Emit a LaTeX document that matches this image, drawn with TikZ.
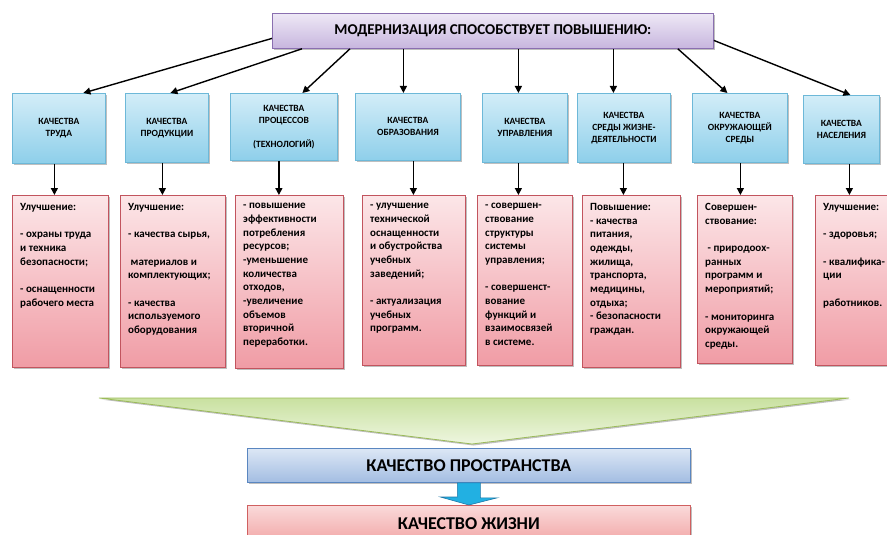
\documentclass[tikz,border=0pt]{standalone}
\usepackage{fontspec}
\setmainfont{Carlito}
\usetikzlibrary{arrows.meta,shadows,calc}
\definecolor{bluetop}{HTML}{D3EDF8}
\definecolor{bluebot}{HTML}{8ECFEA}
\definecolor{blueedge}{HTML}{6DB8D8}
\definecolor{pinktop}{HTML}{FCE6E8}
\definecolor{pinkbot}{HTML}{F09CA5}
\definecolor{pinkedge}{HTML}{C2545E}
\definecolor{purtop}{HTML}{EEE8F6}
\definecolor{purbot}{HTML}{C7B6DE}
\definecolor{puredge}{HTML}{8A6FB0}
\definecolor{grtop}{HTML}{C9E1A0}
\definecolor{grbot}{HTML}{EEF6E0}
\definecolor{gredge}{HTML}{9BBB59}
\definecolor{bartop}{HTML}{DCE7F5}
\definecolor{barbot}{HTML}{A3BDE2}
\definecolor{baredge}{HTML}{5A86C0}
\definecolor{lifetop}{HTML}{FADADA}
\definecolor{lifebot}{HTML}{F2A8A8}
\definecolor{lifeedge}{HTML}{D06060}
\definecolor{arrfill}{HTML}{22B0E2}
\definecolor{arredge}{HTML}{1E78A8}
\tikzset{
  x=1pt, y=-1pt,
  shad/.style={drop shadow={shadow xshift=1.5pt, shadow yshift=-1.5pt, opacity=0.25, fill=black}},
  topbox/.style={draw=puredge, line width=0.8pt, top color=purtop, bottom color=purbot, shad,
     minimum width=441pt, minimum height=35pt, anchor=north west, inner sep=0pt,
     font=\bfseries\fontsize{15}{17}\selectfont},
  bluebox/.style={draw=blueedge, line width=0.8pt, top color=bluetop, bottom color=bluebot, shad,
     anchor=north west, inner sep=0pt, align=center,
     font=\bfseries\fontsize{9.5}{12}\selectfont},
  pinkbox/.style={draw=pinkedge, line width=0.8pt, top color=pinktop, bottom color=pinkbot, shad,
     anchor=north west, inner sep=0pt},
  pinktext/.style={anchor=north west, inner sep=0pt, align=left,
     font=\bfseries\fontsize{11}{13.7}\selectfont},
  arr/.style={line width=1.4pt, -{Triangle[length=7pt,width=7pt]}},
  barbox/.style={line width=0.8pt, anchor=north west, inner sep=0pt, shad,
     minimum width=443pt, font=\bfseries\fontsize{18}{20}\selectfont}
}
\begin{document}
\begin{tikzpicture}
\useasboundingbox (0,0) rectangle (887,535);
% top
\node[topbox] (top) at (272,13) {МОДЕРНИЗАЦИЯ СПОСОБСТВУЕТ ПОВЫШЕНИЮ:};
% blue boxes
\node[bluebox, minimum width=93pt, minimum height=70pt] (b1) at (12,93) {КАЧЕСТВА\\ТРУДА};
\node[bluebox, minimum width=83pt, minimum height=69pt] (b2) at (125,93) {КАЧЕСТВА\\ПРОДУКЦИИ};
\node[bluebox, minimum width=107pt, minimum height=67pt] (b3) at (230,93) {КАЧЕСТВА\\ПРОЦЕССОВ\\[12pt](ТЕХНОЛОГИЙ)};
\node[bluebox, minimum width=105pt, minimum height=67pt] (b4) at (355,93) {КАЧЕСТВА\\ОБРАЗОВАНИЯ};
\node[bluebox, minimum width=85pt, minimum height=69pt] (b5) at (482,93) {КАЧЕСТВА\\УПРАВЛЕНИЯ};
\node[bluebox, minimum width=93pt, minimum height=69pt] (b6) at (577,93) {КАЧЕСТВА\\СРЕДЫ ЖИЗНЕ-\\ДЕЯТЕЛЬНОСТИ};
\node[bluebox, minimum width=95pt, minimum height=69pt] (b7) at (692,93) {КАЧЕСТВА\\ОКРУЖАЮЩЕЙ\\СРЕДЫ};
\node[bluebox, minimum width=76pt, minimum height=68pt] (b8) at (803,95) {КАЧЕСТВА\\НАСЕЛЕНИЯ};
% pink boxes
\node[pinkbox, minimum width=96pt, minimum height=172pt] (p1) at (12,195) {};
\node[pinkbox, minimum width=105pt, minimum height=172pt] (p2) at (120,195) {};
\node[pinkbox, minimum width=108pt, minimum height=173pt] (p3) at (235,195) {};
\node[pinkbox, minimum width=103pt, minimum height=170pt] (p4) at (362,195) {};
\node[pinkbox, minimum width=95pt, minimum height=170pt] (p5) at (477,195) {};
\node[pinkbox, minimum width=98pt, minimum height=172pt] (p6) at (582,195) {};
\node[pinkbox, minimum width=95pt, minimum height=168pt] (p7) at (697,195) {};
\node[pinkbox, minimum width=85pt, minimum height=170pt] (p8) at (815,195) {};
% pink texts
\node[pinktext] (t1) at ([shift={(8pt,-8pt)}]p1.north west) {Улучшение:\\[13.7pt]- охраны труда\\и техника\\безопасности;\\[13.7pt]- оснащенности\\рабочего места};
\node[pinktext] (t2) at ([shift={(8pt,-8pt)}]p2.north west) {Улучшение:\\[13.7pt]- качества сырья,\\[13.7pt]\ материалов и\\комплектующих;\\[13.7pt]- качества\\используемого\\оборудования};
\node[pinktext] (t3) at ([shift={(8pt,-8pt)}]p3.north west) {- повышение\\эффективности\\потребления\\ресурсов;\\-уменьшение\\количества\\отходов,\\-увеличение\\объемов\\вторичной\\переработки.};
\node[pinktext] (t4) at ([shift={(8pt,-8pt)}]p4.north west) {- улучшение\\технической\\оснащенности\\и обустройства\\учебных\\заведений;\\[13.7pt]- актуализация\\учебных\\программ.};
\node[pinktext] (t5) at ([shift={(8pt,-8pt)}]p5.north west) {- совершен-\\ствование\\структуры\\системы\\управления;\\[13.7pt]- совершенст-\\вование\\функций и\\взаимосвязей\\в системе.};
\node[pinktext] (t6) at ([shift={(8pt,-8pt)}]p6.north west) {Повышение:\\- качества\\питания,\\одежды,\\жилища,\\транспорта,\\медицины,\\отдыха;\\- безопасности\\граждан.};
\node[pinktext] (t7) at ([shift={(8pt,-8pt)}]p7.north west) {Совершен-\\ствование:\\[13.7pt]\ - природоох-\\ранных\\программ и\\мероприятий;\\[13.7pt]- мониторинга\\окружающей\\среды.};
\node[pinktext] (t8) at ([shift={(8pt,-8pt)}]p8.north west) {Улучшение:\\[13.7pt]- здоровья;\\[13.7pt]- квалифика-\\ции\\[13.7pt]работников.};
% arrows top -> blue
\draw[arr] ([yshift=-7.5pt]top.west) -- ([xshift=24.5pt]b1.north);
\draw[arr] ([xshift=30pt]top.south west) -- ([xshift=3.5pt]b2.north);
\draw[arr] ([xshift=78pt]top.south west) -- ([xshift=18.5pt]b3.north);
\draw[arr] ([xshift=-4.5pt]b4.north |- top.south) -- ([xshift=-4.5pt]b4.north);
\draw[arr] ([xshift=-6.5pt]b5.north |- top.south) -- ([xshift=-6.5pt]b5.north);
\draw[arr] ([xshift=-10.5pt]b6.north |- top.south) -- ([xshift=-10.5pt]b6.north);
\draw[arr] ([xshift=-36pt]top.south east) -- ([xshift=-12.5pt]b7.north);
\draw[arr] ([yshift=-9.5pt]top.east) -- ([xshift=9pt]b8.north);
% arrows blue -> pink
\draw[arr] ([xshift=-4.5pt]b1.south) -- ([xshift=-4.5pt]b1.south |- p1.north);
\draw[arr] ([xshift=-4.5pt]b2.south) -- ([xshift=-4.5pt]b2.south |- p2.north);
\draw[arr] ([xshift=-5pt]b3.south) -- ([xshift=-5pt]b3.south |- p3.north);
\draw[arr] ([xshift=5.5pt]b4.south) -- ([xshift=5.5pt]b4.south |- p4.north);
\draw[arr] ([xshift=-6.5pt]b5.south) -- ([xshift=-6.5pt]b5.south |- p5.north);
\draw[arr] ([xshift=-0.5pt]b6.south) -- ([xshift=-0.5pt]b6.south |- p6.north);
\draw[arr] ([xshift=0.5pt]b7.south) -- ([xshift=0.5pt]b7.south |- p7.north);
\draw[arr] ([xshift=8pt]b8.south) -- ([xshift=8pt]b8.south |- p8.north);
% green triangle
\draw[draw=gredge, line width=0.8pt, top color=grtop, bottom color=grbot, shad] (99,398) -- (849,398) -- (472,444) -- cycle;
% bottom bars
\node[barbox, draw=baredge, top color=bartop, bottom color=barbot, minimum height=34pt] (q1) at (247,448) {КАЧЕСТВО ПРОСТРАНСТВА};
\node[barbox, draw=lifeedge, top color=lifetop, bottom color=lifebot, minimum height=36pt] (q2) at (247,505) {КАЧЕСТВО ЖИЗНИ};
% blue block arrow
\draw[draw=arredge, line width=0.6pt, fill=arrfill] ([xshift=-11.5pt]q1.south) -- ([xshift=11.5pt]q1.south) -- ++(0,15) -- ++(17,0) -- (q2.north) -- ++(-28.5,-8) -- ++(17,0) -- cycle;
\end{tikzpicture}
\end{document}
